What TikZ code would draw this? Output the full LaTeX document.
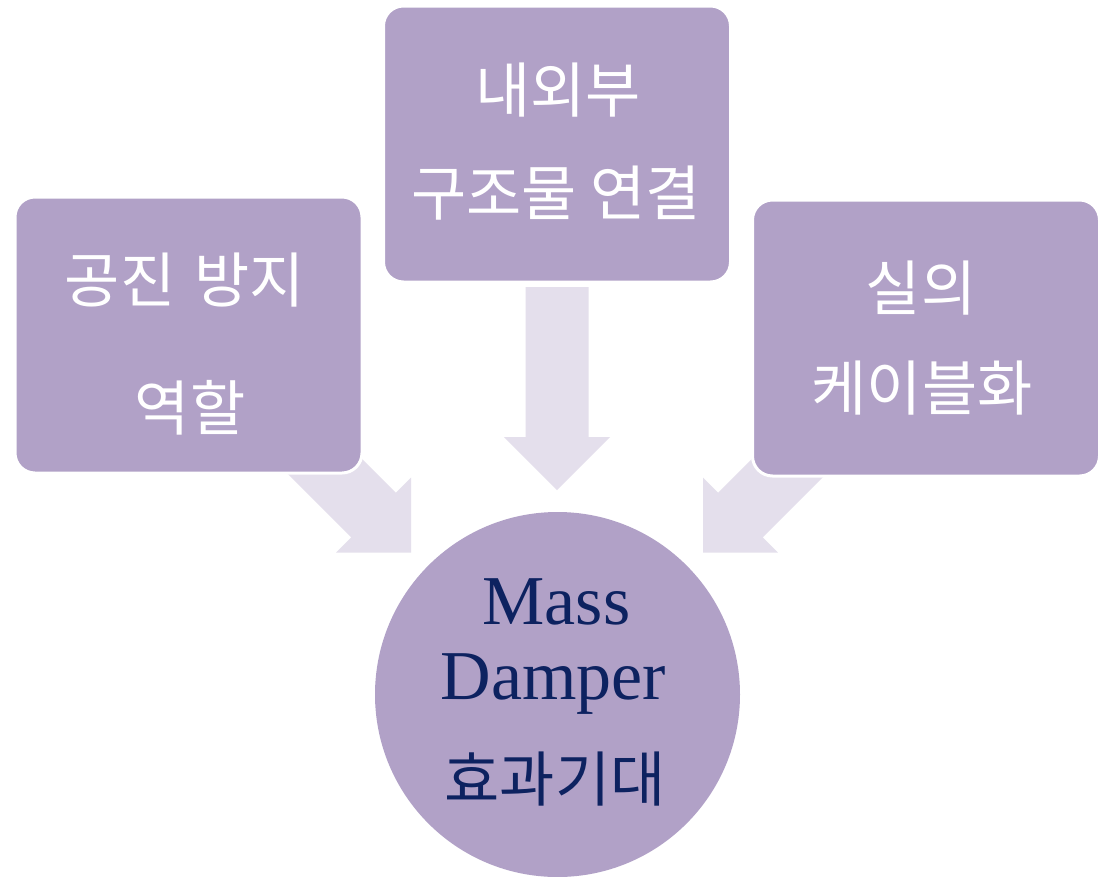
\documentclass[tikz,border=0pt]{standalone}
\usepackage{fontspec}
\setmainfont{Liberation Serif}
\newfontfamily\kr{Noto Sans CJK KR}
\definecolor{boxfill}{HTML}{B1A1C7}
\definecolor{arrowfill}{HTML}{E4DFEC}
\definecolor{navy}{HTML}{0D2260}
\tikzset{
  blockarrow/.pic={\fill[arrowfill] (0,0) -- (-53,-53) -- (-31.5,-53) -- (-31.5,-203) -- (31.5,-203) -- (31.5,-53) -- (53,-53) -- cycle;},
  box/.style={rectangle, rounded corners=20pt, fill=boxfill, draw=white, line width=3pt, minimum width=347pt, minimum height=276pt, inner sep=0pt},
  hub/.style={circle, fill=boxfill, minimum size=365pt, inner sep=0pt},
  krw/.style={font=\kr\fontsize{60}{62}\selectfont, text=white, inner sep=0pt},
  krn/.style={font=\kr\fontsize{60}{62}\selectfont, text=navy, inner sep=0pt},
  en/.style={font=\fontsize{70}{72}\selectfont, text=navy, inner sep=0pt, anchor=base}
}
\begin{document}
\begin{tikzpicture}[x=1pt,y=-1pt]
\useasboundingbox (0,0) rectangle (1101,876);
\fill[white] (0,0) rectangle (1101,876);
% arrows (under the boxes)
\coordinate (t1) at (411,552.5);
\coordinate (t2) at (557,490);
\coordinate (t3) at (703,552.5);
\pic[rotate=45] at (t1) {blockarrow};
\pic at (t2) {blockarrow};
\pic[rotate=-45] at (t3) {blockarrow};
% boxes
\node[box] (b1) at (188.5,335) {};
\node[box] (b2) at (557,144) {};
\node[box] (b3) at (926,338) {};
\node[hub] (c) at (557.5,694.5) {};
% texts
\node[krw] (l1) at (185,280) {공진\hspace{6pt} 방지};
\node[krw] (l2) at (190,408) {역할};
\node[krw] (m1) at (558,90) {내외부};
\node[krw] (m2) at (556,193) {구조물 연결};
\node[krw] (r1) at (921,288) {실의};
\node[krw] (r2) at (922,388) {케이블화};
\node[en] (c1) at (556.5,624) {Mass};
\node[en] (c2) at (553.5,699) {Damper};
\node[krn] (c3) at (555,779) {효과기대};
\end{tikzpicture}
\end{document}
